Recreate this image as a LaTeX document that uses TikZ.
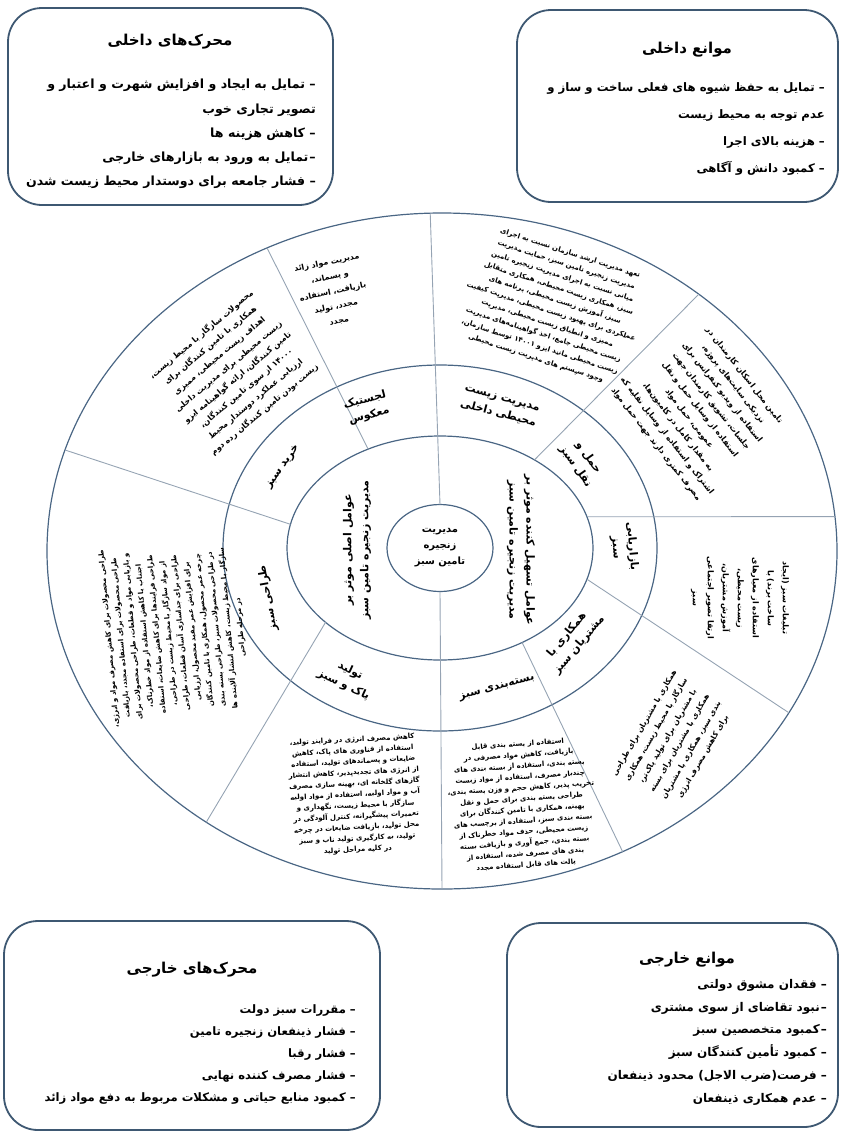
\documentclass[tikz,border=0pt]{standalone}
\usepackage{fontspec}
\usetikzlibrary{shapes.geometric}
\TeXXeTstate=1
\newfontfamily\fa[Script=Arabic]{DejaVu Sans}
\newcommand{\RL}[1]{\beginR#1\endR}
\definecolor{boxcol}{HTML}{3E5872}
\definecolor{ringcol}{HTML}{4A6684}
\definecolor{divcol}{HTML}{95A3B3}
\tikzset{
  box/.style={draw=boxcol, line width=1.8pt, rounded corners=34pt, inner sep=0pt},
  ring/.style={draw=ringcol, line width=1.2pt, ellipse, inner sep=0pt, outer sep=0pt},
  divider/.style={draw=divcol, line width=0.9pt},
  ttl/.style={font=\fa\bfseries\fontsize{15}{18}\selectfont, inner sep=0pt},
  body/.style 2 args={font=\fa\bfseries\fontsize{#1}{#2}\selectfont, align=right, inner sep=0pt, anchor=north east},
  txt/.style 2 args={font=\fa\bfseries\fontsize{#1}{#2}\selectfont, align=center, inner sep=0pt},
  band/.style={font=\fa\bfseries\fontsize{11}{16}\selectfont, align=center, inner sep=0pt},
}
\begin{document}
\begin{tikzpicture}[x=1pt,y=-1pt]
\useasboundingbox (0,0) rectangle (841,1136);

% ---------- boxes ----------
\node[box, minimum width=325pt, minimum height=197pt] (bxTL) at (170.5,106.5) {};
\node[ttl] (tTL) at (170,42) {\RL{محرک^^^^200cهای داخلی}};
\node[body={12.6}{24.3}] (bTL) at (316,79) {%
\RL{– تمایل به ایجاد و افزایش شهرت و  اعتبار و}\\
\RL{تصویر تجاری خوب}\\
\RL{– کاهش هزینه ها}\\
\RL{–\kern1pt تمایل به ورود به بازارهای خارجی}\\
\RL{– فشار جامعه برای دوستدار محیط زیست شدن}};

\node[box, minimum width=321pt, minimum height=192pt] (bxTR) at (677.5,106) {};
\node[ttl] (tTR) at (687,50) {\RL{موانع داخلی}};
\node[body={11.7}{27}] (bTR) at (825,82) {%
\RL{– تمایل به حفظ شیوه های فعلی ساخت و ساز و}\\
\RL{عدم توجه به محیط زیست}\\
\RL{– هزینه بالای اجرا}\\
\RL{– کمبود دانش و آگاهی}};

\node[box, minimum width=376pt, minimum height=209pt] (bxBL) at (192,1025.5) {};
\node[ttl] (tBL) at (192,970) {\RL{محرک^^^^200cهای خارجی}};
\node[body={11.6}{22.2}] (bBL) at (356,1004) {%
\RL{– مقررات سبز دولت}\\
\RL{– فشار ذینفعان زنجیره تامین}\\
\RL{– فشار رقبا}\\
\RL{– فشار مصرف کننده نهایی}\\
\RL{– کمبود منابع حیاتی و مشکلات مربوط به دفع مواد زائد}};

\node[box, minimum width=331pt, minimum height=204pt] (bxBR) at (672.5,1025) {};
\node[ttl] (tBR) at (687,960) {\RL{موانع خارجی}};
\node[body={12}{22.8}] (bBR) at (827,979) {%
\RL{– فقدان مشوق دولتی}\\
\RL{–\kern1pt نبود تقاضای از سوی مشتری}\\
\RL{–\kern1pt کمبود متخصصین سبز}\\
\RL{– کمبود تأمین کنندگان سبز}\\
\RL{– فرصت(ضرب الاجل) محدود ذینفعان}\\
\RL{– عدم همکاری ذینفعان}};

% ---------- rings ----------
\node[ring, minimum width=790pt, minimum height=676pt] (outer) at (442,551) {};
\node[ring, minimum width=434pt, minimum height=366pt] (mid) at (440,548) {};
\node[ring, minimum width=306pt, minimum height=224pt] (inner) at (440,548) {};
\node[ring, minimum width=106pt, minimum height=87pt, font=\fa\bfseries\fontsize{10}{16}\selectfont, align=center] (cen) at (440,548) {\RL{مدیریت}\\\RL{زنجیره}\\\RL{تامین سبز}};

% ---------- dividers ----------
\draw[divider] (cen.north) -- (outer.92.4);
\draw[divider] (cen.south) -- (outer.270.3);
\draw[divider] (inner.126.3) -- (outer.120.3);
\draw[divider] (inner.171.3) -- (outer.165.9);
\draw[divider] (inner.213.4) -- (outer.229.3);
\draw[divider] (inner.311.7) -- (outer.301.3);
\draw[divider] (inner.348.2) -- (outer.335.8);
\draw[divider] (inner.12.7) -- (outer.5.9);
\draw[divider] (inner.43.7) -- (outer.45.7);

% ---------- inner ring ----------
\node[txt={11}{17}, rotate=90] (fMain) at (357,550) {\RL{عوامل اصلی موثر بر}\\\RL{مدیریت زنجیره تامین سبز}};
\node[txt={11}{17}, rotate=-90] (fFac) at (521,550) {\RL{عوامل تسهیل کننده موثر بر}\\\RL{مدیریت زنجیره تامین سبز}};

% ---------- band labels ----------
\node[band, rotate=15] (lLog) at (367,408) {\RL{لجستیک}\\\RL{معکوس}};
\node[band, rotate=-15] (lInt) at (500,407) {\RL{مدیریت زیست}\\\RL{محیطی داخلی}};
\node[band, rotate=55] (lPur) at (283,467) {\RL{خرید سبز}};
\node[band, rotate=100] (lDes) at (268,598) {\RL{طراحی سبز}};
\node[band, rotate=-25] (lProd) at (347,678) {\RL{تولید}\\\RL{پاک و سبز}};
\node[band, rotate=15] (lPack) at (497,688) {\RL{بسته^^^^200cبندی سبز}};
\node[band, rotate=50] (lCoop) at (573,640) {\RL{همکاری با}\\\RL{مشتریان سبز}};
\node[band, rotate=-85] (lMkt) at (624,547) {\RL{بازاریابی}\\\RL{سبز}};
\node[band, rotate=-55] (lTr) at (582,462) {\RL{حمل و}\\\RL{نقل سبز}};

% ---------- outer band texts ----------
\node[txt={8}{15}, rotate=12] (wasteB) at (333,292) {%
\RL{مدیریت مواد زائد}\\\RL{و پسماند،}\\\RL{بازیافت، استفاده}\\\RL{مجدد، تولید}\\\RL{مجدد}};

\node[txt={8}{14}, rotate=40] (prodB) at (233,372) {%
\RL{محصولات سازگار با محیط زیست،}\\
\RL{همکاری با تامین کنندگان برای}\\
\RL{اهداف زیست محیطی، ممیزی}\\
\RL{زیست محیطی برای مدیریت داخلی}\\
\RL{تامین کنندگان، ارائه گواهینامه ایزو}\\
\RL{۱۴۰۰۰ از سوی تامین کنندگان،}\\
\RL{ارزیابی عملکرد دوستدار محیط}\\
\RL{زیست بودن تامین کنندگان رده دوم}};

\node[txt={7}{12.3}, rotate=-18] (commitB) at (553,306) {%
\RL{تعهد مدیریت ارشد سازمان نسبت به اجرای}\\
\RL{مدیریت زنجیره تامین سبز، حمایت مدیریت}\\
\RL{میانی نسبت به اجرای مدیریت زنجیره تامین}\\
\RL{سبز، همکاری زیست محیطی، همکاری متقابل}\\
\RL{سبز، آموزش زیست محیطی، برنامه های}\\
\RL{عملکردی برای بهبود زیست محیطی، مدیریت کیفیت}\\
\RL{ممیزی و انطباق زیست محیطی، مدیریت}\\
\RL{زیست محیطی جامع، اخذ گواهینامه^^^^200cهای مدیریت}\\
\RL{زیست محیطی مانند ایزو ۱۴۰۰۱ توسط سازمان،}\\
\RL{وجود سیستم های مدیریت زیست محیطی}};

\node[txt={8}{14}, rotate=-52] (transB) at (700,410) {%
\RL{تامین محل اسکان کارمندان در}\\
\RL{نزدیکی سایت^^^^200cهای پروژه،}\\
\RL{استفاده از ویدیو کنفرانس برای}\\
\RL{جلسات، تشویق کارمندان جهت}\\
\RL{استفاده از وسایل حمل و نقل}\\
\RL{عمومی، حمل مواد}\\
\RL{به مقدار کامل در کامیون^^^^200cها،}\\
\RL{اشتراک و استفاده از وسایل نقلیه که}\\
\RL{مصرف کمتری دارند جهت حمل مواد}};

\node[txt={8}{15}, rotate=-90] (marketB) at (740,598) {%
\RL{تبلیغات سبز (ایجاد}\\
\RL{ساخت برند) با}\\
\RL{استفاده از معیارهای}\\
\RL{زیست محیطی،}\\
\RL{آموزش مشتریان،}\\
\RL{ارتقا تصویر اجتماعی}\\
\RL{سبز}};

\node[txt={7.5}{13.5}, rotate=60] (coopB) at (674,740) {%
\RL{همکاری با مشتریان برای طراحی}\\
\RL{سازگار با محیط زیست، همکاری}\\
\RL{با مشتریان برای تولید پاک^^^^200cتر،}\\
\RL{همکاری با مشتریان برای بسته}\\
\RL{بندی سبز، همکاری با مشتریان}\\
\RL{برای کاهش مصرف انرژی}};

\node[txt={7}{11}, rotate=4] (packB) at (522,805) {%
\RL{استفاده از بسته بندی قابل}\\
\RL{بازیافت، کاهش مواد مصرفی در}\\
\RL{بسته بندی، استفاده از بسته بندی های}\\
\RL{چندبار مصرف، استفاده از مواد زیست}\\
\RL{تخریب پذیر، کاهش حجم و وزن بسته بندی،}\\
\RL{طراحی بسته بندی برای حمل و نقل}\\
\RL{بهینه، همکاری با تامین کنندگان برای}\\
\RL{بسته بندی سبز، استفاده از برچسب های}\\
\RL{زیست محیطی، حذف مواد خطرناک از}\\
\RL{بسته بندی، جمع آوری و بازیافت بسته}\\
\RL{بندی های مصرف شده، استفاده از}\\
\RL{پالت های قابل استفاده مجدد}};

\node[txt={7}{11}, rotate=3] (cleanB) at (355,795) {%
\RL{کاهش مصرف انرژی در فرایند تولید،}\\
\RL{استفاده از فناوری های پاک، کاهش}\\
\RL{ضایعات و پسماندهای تولید، استفاده}\\
\RL{از انرژی های تجدیدپذیر، کاهش انتشار}\\
\RL{گازهای گلخانه ای، بهینه سازی مصرف}\\
\RL{آب و مواد اولیه، استفاده از مواد اولیه}\\
\RL{سازگار با محیط زیست، نگهداری و}\\
\RL{تعمیرات پیشگیرانه، کنترل آلودگی در}\\
\RL{محل تولید، بازیافت ضایعات در چرخه}\\
\RL{تولید، به کارگیری تولید ناب و سبز}\\
\RL{در کلیه مراحل تولید}};

\node[txt={7}{12}, rotate=95] (designB) at (175,633) {%
\RL{طراحی محصولات برای کاهش مصرف مواد و انرژی،}\\
\RL{طراحی محصولات برای استفاده مجدد، بازیافت}\\
\RL{و بازیابی مواد و قطعات، طراحی محصولات برای}\\
\RL{اجتناب یا کاهش استفاده از مواد خطرناک،}\\
\RL{طراحی فرایندها برای کاهش ضایعات، استفاده}\\
\RL{از مواد سازگار با محیط زیست در طراحی،}\\
\RL{طراحی برای جداسازی آسان قطعات، طراحی}\\
\RL{برای افزایش عمر مفید محصول، ارزیابی}\\
\RL{چرخه عمر محصول، همکاری با تامین کنندگان}\\
\RL{در طراحی محصولات سبز، طراحی بسته بندی}\\
\RL{سازگار با محیط زیست، کاهش انتشار آلاینده ها}\\
\RL{در مرحله طراحی}};

\end{tikzpicture}
\end{document}
